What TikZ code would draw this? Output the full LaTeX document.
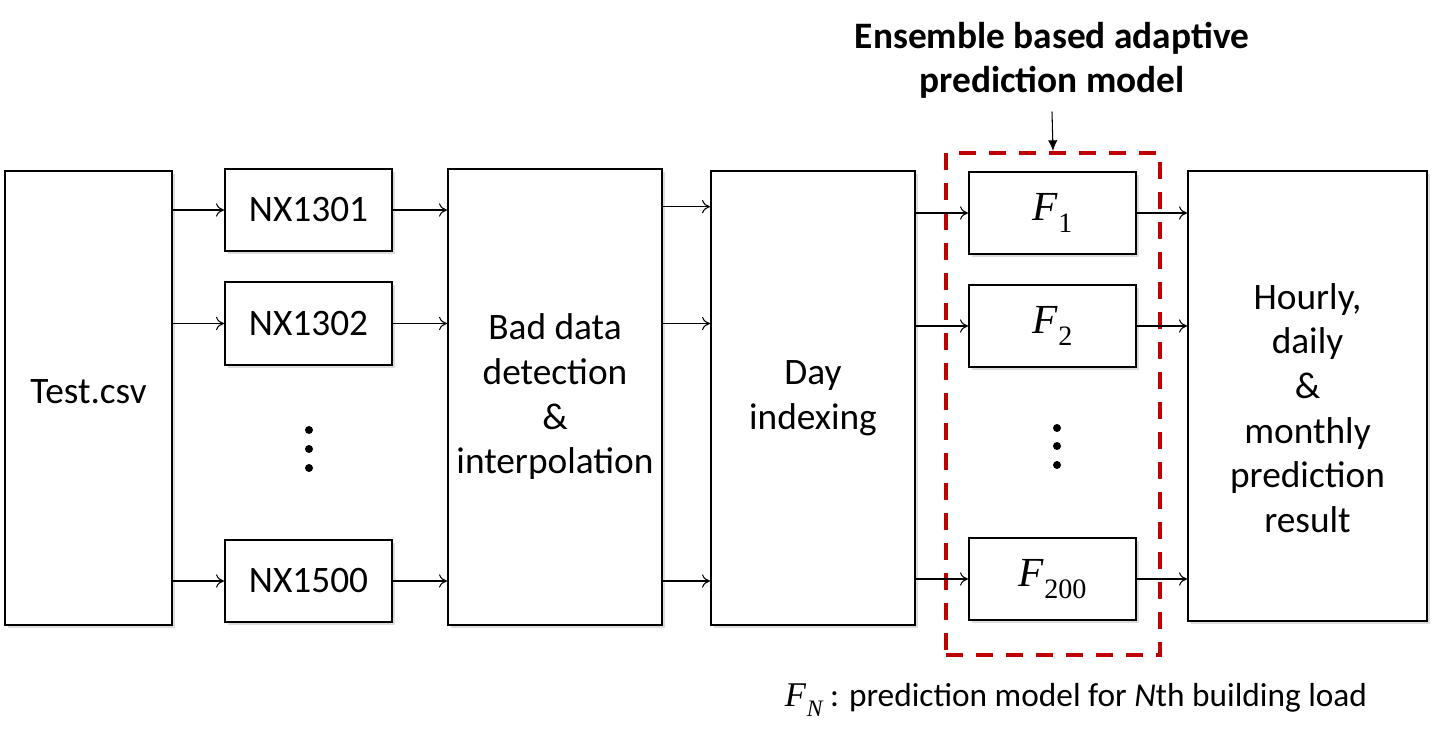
\documentclass[tikz,border=0pt]{standalone}
\usepackage{fontspec}
\setmainfont{Carlito}
\newfontfamily\mfont{Liberation Serif}
\usetikzlibrary{arrows.meta,shadows}

% model symbol F with subscript, #1 = size of F, #2 = subscript
\newcommand{\fsym}[2][31]{{\mfont\fontsize{#1}{#1}\selectfont\itshape F}\kern0.5pt\raisebox{-0.32em}{\mfont\fontsize{\fpeval{#1*0.68}}{20}\selectfont #2}}

\tikzset{
  blk/.style={draw,line width=1.5pt,fill=white,inner sep=0pt,align=center,
    font=\fontsize{28}{33.5}\selectfont,
    drop shadow={shadow xshift=2.5pt,shadow yshift=-2.5pt,opacity=0.28}},
  conn/.style={line width=0.8pt,-{To[length=6pt,width=10pt]}},
}

\begin{document}
\begin{tikzpicture}[x=0.75pt,y=0.75pt,yscale=-1,xscale=1]
\useasboundingbox (0,0) rectangle (1441,740);

%Shape: Rectangle [input file]
\node [blk,minimum width=125.25pt,minimum height=340.5pt] (test) at (88.5,398) {\raisebox{5pt}[\height][\depth]{Test.csv}};
%Shape: Rectangle [buildings]
\node [blk,minimum width=125.25pt,minimum height=61.5pt] (nx1) at (308.5,210) {NX1301};
\node [blk,minimum width=125.25pt,minimum height=62.25pt] (nx2) at (308.5,323.5) {NX1302};
\node [blk,minimum width=125.25pt,minimum height=61.5pt] (nx3) at (308.5,581) {NX1500};
%Shape: Circle [dots]
\foreach \y in {430,449,468} \fill (309,\y) circle (3pt);
%Shape: Rectangle [bad data]
\node [blk,minimum width=160.5pt,minimum height=342pt] (bad) at (555,397) {Bad data\\detection\\\&\\interpolation};
%Shape: Rectangle [day indexing]
\node [blk,minimum width=153pt,minimum height=340.5pt] (day) at (813,398) {Day\\indexing};

%Shape: Rectangle [ensemble frame]
\node [draw=red!75!black,line width=3pt,dash pattern=on 13pt off 9.5pt,minimum width=160.5pt,minimum height=376.5pt] (ens) at (1053,404) {};
%Shape: Rectangle [models]
\node [blk,minimum width=125.25pt,minimum height=61.5pt] (f1) at (1052.5,213) {\fsym{1}};
\node [blk,minimum width=125.25pt,minimum height=61.5pt] (f2) at (1052.5,326) {\fsym{2}};
\node [blk,minimum width=125.25pt,minimum height=61.5pt] (f3) at (1052.5,579) {\fsym{200}};
%Shape: Circle [dots]
\foreach \y in {428,446,465} \fill (1057,\y) circle (3pt);
%Shape: Rectangle [result]
\node [blk,minimum width=179.25pt,minimum height=337.5pt] (res) at (1307.5,396) {\raisebox{-12pt}[\height][\depth]{\begin{tabular}{@{}c@{}}Hourly,\\daily\\\&\\monthly\\prediction\\result\end{tabular}}};

%Straight Lines [test -> buildings]
\draw [conn] (test.east |- nx1) -- (nx1);
\draw [conn] (test.east |- nx2) -- (nx2);
\draw [conn] (test.east |- nx3) -- (nx3);
%Straight Lines [buildings -> bad data]
\draw [conn] (nx1) -- (bad.west |- nx1);
\draw [conn] (nx2) -- (bad.west |- nx2);
\draw [conn] (nx3) -- (bad.west |- nx3);
%Straight Lines [bad data -> day indexing]
\draw [conn] ([yshift=-2.5pt]bad.east |- nx1) -- ([yshift=-2.5pt]day.west |- nx1);
\draw [conn] (bad.east |- nx2) -- (day.west |- nx2);
\draw [conn] (bad.east |- nx3) -- (day.west |- nx3);
%Straight Lines [day indexing -> models]
\draw [conn] (day.east |- f1) -- (f1);
\draw [conn] (day.east |- f2) -- (f2);
\draw [conn] (day.east |- f3) -- (f3);
%Straight Lines [models -> result]
\draw [conn] (f1) -- (res.west |- f1);
\draw [conn] (f2) -- (res.west |- f2);
\draw [conn] (f3) -- (res.west |- f3);

% Text Node
\node [font=\fontsize{28}{33}\selectfont\bfseries,align=center,inner sep=0pt] (title) at (1052,60) {Ensemble based adaptive\\prediction model};
%Straight Lines [title -> frame]
\draw [line width=0.8pt,-{Latex[length=8pt,width=7pt]}] ([yshift=10pt]title.south) -- (ens.north);
% Text Node
\node [font=\fontsize{25}{30}\selectfont,inner sep=0pt] (note) at (1076,700) {\fsym[26]{\itshape N} : prediction model for \textit{N}th building load};

\end{tikzpicture}
\end{document}
